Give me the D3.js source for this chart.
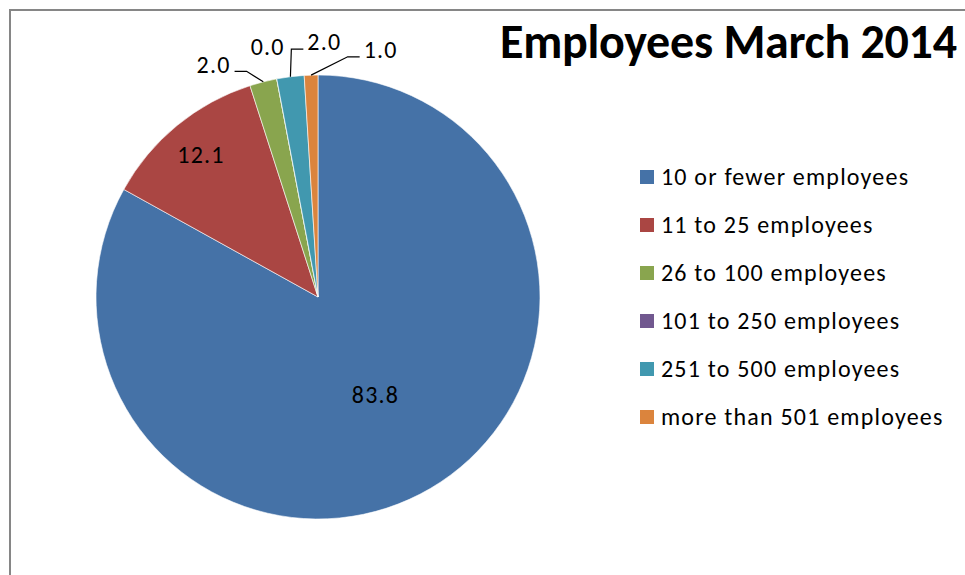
<!DOCTYPE html>
<html>
<head>
<meta charset="utf-8">
<script src="https://cdn.jsdelivr.net/npm/d3@7"></script>
<style>
  body { margin: 0; background: #fff; }
  svg { display: block; }
</style>
</head>
<body>
<div class="chart"></div>
<script>
const categories = ["10 or fewer employees", "11 to 25 employees", "26 to 100 employees",
    "101 to 250 employees", "251 to 500 employees", "more than 501 employees"]
const values = [83.8, 12.1, 2.0, 0.0, 2.0, 1.0]
const colors = ["#4572A7", "#AA4643", "#89A54E", "#71588F", "#4198AF", "#DB843D"]
const title = "Employees March 2014"

const width = 965
const height = 575
const cx = 318, cy = 297, radius = 222
const font = "Calibri, Carlito, 'Open Sans', sans-serif"
const fontSize = "24px"
const spacing = "1.2px"

const data = categories.map((c, i) => ({ name: c, value: values[i], color: colors[i] }))

const svg = d3.select(".chart").append("svg")
    .attr("width", width)
    .attr("height", height)

// chart frame, runs off the right and bottom edge
svg.append("rect")
    .attr("x", 10).attr("y", 10)
    .attr("width", width + 20).attr("height", height + 20)
    .attr("fill", "#fff")
    .attr("stroke", "#868686")
    .attr("stroke-width", 2)

const pie = d3.pie().sort(null).value(d => d.value)
const arcs = pie(data)
const arc = d3.arc().innerRadius(0).outerRadius(radius)

const g = svg.append("g").attr("transform", `translate(${cx},${cy})`)

g.selectAll("path")
    .data(arcs)
    .enter().append("path")
    .attr("d", arc)
    .attr("fill", d => d.data.color)
    .attr("stroke", "#fff")
    .attr("stroke-width", 0.6)
    .attr("stroke-linejoin", "round")

const mid = d => (d.startAngle + d.endAngle) / 2
const total = d3.sum(values)

// big slices get the label inside, small ones outside with leader lines
const inside = arcs.filter(d => d.value / total > 0.05)
const outside = arcs.filter(d => d.value / total <= 0.05)
const inR = d => radius * (d.value / total > 0.5 ? 0.51 : 0.83)

g.selectAll("text.inside")
    .data(inside)
    .enter().append("text")
    .attr("class", "inside")
    .attr("x", d => Math.sin(mid(d)) * inR(d))
    .attr("y", d => -Math.cos(mid(d)) * inR(d))
    .attr("dy", "0.35em")
    .attr("text-anchor", "middle")
    .style("font-family", font)
    .style("font-size", fontSize)
    .style("letter-spacing", spacing)
    .text(d => d.value.toFixed(1))

// spread outside labels apart along a circle
const gap = 12.8 * Math.PI / 180
const shift = 3.5 * Math.PI / 180
const labelR = radius + 33
let ang = outside.map(d => mid(d))
const meanAng = d3.mean(ang)
const span = gap * (ang.length - 1)
ang = ang.map((a, i) => meanAng - span / 2 + i * gap + shift)

outside.forEach((d, i) => {
    const a = ang[i]
    const lx = Math.sin(a) * labelR
    const ly = -Math.cos(a) * labelR
    const t = g.append("text")
        .attr("x", lx).attr("y", ly)
        .attr("dy", "0.35em")
        .attr("text-anchor", "middle")
        .style("font-family", font)
        .style("font-size", fontSize)
        .style("letter-spacing", spacing)
        .text(d.value.toFixed(1))
    if (d.value === 0) return
    const w = t.node().getComputedTextLength()
    const px = Math.sin(mid(d)) * radius
    const py = -Math.cos(mid(d)) * radius
    const side = px < lx ? -1 : 1   // which side of the label the line leaves from
    const x0 = lx + side * (w / 2 + 4)
    const x1 = x0 + side * 12
    const yl = ly + 7
    g.append("path")
        .attr("d", `M${x0},${yl}H${x1}L${px},${py}`)
        .attr("fill", "none")
        .attr("stroke", "#000")
        .attr("stroke-width", 1.2)
})

// title
svg.append("text")
    .attr("x", 500).attr("y", 58)
    .style("font-family", font)
    .style("font-weight", "bold")
    .style("font-size", "48px")
    .attr("textLength", 457)
    .attr("lengthAdjust", "spacing")
    .text(title)

// legend
const legend = svg.append("g").attr("transform", "translate(640,177)")
const item = legend.selectAll("g")
    .data(data)
    .enter().append("g")
    .attr("transform", (d, i) => `translate(0,${i * 48})`)

item.append("rect")
    .attr("x", 0).attr("y", -7)
    .attr("width", 14).attr("height", 14)
    .attr("fill", d => d.color)

item.append("text")
    .attr("x", 21)
    .attr("dy", "0.35em")
    .style("font-family", font)
    .style("font-size", fontSize)
    .style("letter-spacing", spacing)
    .text(d => d.name)
</script>
</body>
</html>
